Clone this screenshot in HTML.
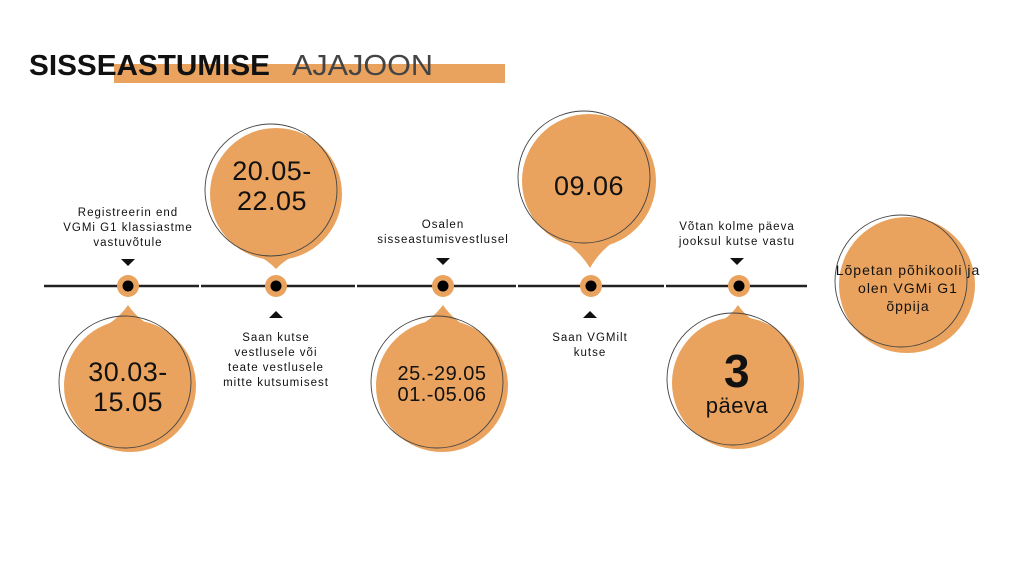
<!DOCTYPE html>
<html><head><meta charset="utf-8"><style>
html,body{margin:0;padding:0;background:#fff;}
svg{display:block;}
.lbl{font-family:"Liberation Sans",sans-serif;font-size:11.5px;letter-spacing:1px;fill:#111;text-anchor:middle;}
.big{font-family:"Liberation Sans",sans-serif;font-size:27px;fill:#111;text-anchor:middle;letter-spacing:0.5px;}
</style></head><body>
<svg width="1024" height="576" viewBox="0 0 1024 576" xmlns="http://www.w3.org/2000/svg">
<rect width="1024" height="576" fill="#fff"/>
<!-- title -->
<rect x="114" y="64" width="391" height="19" fill="#E9A35E"/>
<text x="29" y="75" font-family="Liberation Sans,sans-serif" font-weight="bold" font-size="29" fill="#111" textLength="241" lengthAdjust="spacingAndGlyphs">SISSEASTUMISE</text>
<text x="292" y="75" font-family="Liberation Sans,sans-serif" font-weight="normal" font-size="29" fill="#444" textLength="141" lengthAdjust="spacingAndGlyphs">AJAJOON</text>

<!-- timeline segments -->
<g stroke="#222" stroke-width="2.6">
<line x1="44" y1="286" x2="199" y2="286"/>
<line x1="201" y1="286" x2="355" y2="286"/>
<line x1="357" y1="286" x2="516" y2="286"/>
<line x1="518" y1="286" x2="664" y2="286"/>
<line x1="666" y1="286" x2="807" y2="286"/>
</g>

<!-- bubbles -->
<g fill="#E9A35E">
<circle cx="130" cy="386" r="66"/>
<path d="M98 330 Q118 320 128 305 Q138 320 158 330 Z"/>
<circle cx="276" cy="194" r="66"/>
<path d="M246 250 Q266 258 276 269 Q286 258 306 250 Z"/>
<circle cx="442" cy="386" r="66"/>
<path d="M412 330 Q432 320 443 305 Q453 320 472 330 Z"/>
<circle cx="589" cy="181" r="67"/>
<path d="M559 238 Q579 250 590 268 Q600 250 619 238 Z"/>
<circle cx="738" cy="383" r="66"/>
<path d="M708 328 Q728 320 738 305 Q748 320 768 328 Z"/>
<circle cx="907" cy="285" r="68"/>
</g>
<g fill="none" stroke="#444" stroke-width="0.9">
<circle cx="125" cy="382" r="66"/>
<circle cx="271" cy="190" r="66"/>
<circle cx="437" cy="382" r="66"/>
<circle cx="584" cy="177" r="66"/>
<circle cx="733" cy="379" r="66"/>
<circle cx="901" cy="281" r="66"/>
</g>

<!-- dots -->
<g>
<circle cx="128" cy="286" r="11" fill="#E9A35E"/><circle cx="128" cy="286" r="5.5" fill="#000"/>
<circle cx="276" cy="286" r="11" fill="#E9A35E"/><circle cx="276" cy="286" r="5.5" fill="#000"/>
<circle cx="443" cy="286" r="11" fill="#E9A35E"/><circle cx="443" cy="286" r="5.5" fill="#000"/>
<circle cx="591" cy="286" r="11" fill="#E9A35E"/><circle cx="591" cy="286" r="5.5" fill="#000"/>
<circle cx="739" cy="286" r="11" fill="#E9A35E"/><circle cx="739" cy="286" r="5.5" fill="#000"/>
</g>

<!-- triangles -->
<g fill="#111">
<polygon points="121,259 135,259 128,266"/>
<polygon points="436,258 450,258 443,265"/>
<polygon points="730,258 744,258 737,265"/>
<polygon points="269,318 283,318 276,311"/>
<polygon points="583,318 597,318 590,311"/>
</g>

<!-- labels -->
<text class="lbl" x="128" y="216">Registreerin end</text>
<text class="lbl" x="128" y="231">VGMi G1 klassiastme</text>
<text class="lbl" x="128" y="246">vastuvõtule</text>

<text class="lbl" x="276" y="341">Saan kutse</text>
<text class="lbl" x="276" y="356">vestlusele või</text>
<text class="lbl" x="276" y="371">teate vestlusele</text>
<text class="lbl" x="276" y="386">mitte kutsumisest</text>

<text class="lbl" x="443" y="228">Osalen</text>
<text class="lbl" x="443" y="243">sisseastumisvestlusel</text>

<text class="lbl" x="590" y="341">Saan VGMilt</text>
<text class="lbl" x="590" y="356">kutse</text>

<text class="lbl" x="737" y="230">Võtan kolme päeva</text>
<text class="lbl" x="737" y="245">jooksul kutse vastu</text>

<text class="lbl" x="908" y="275" style="font-size:14px">Lõpetan põhikooli ja</text>
<text class="lbl" x="908" y="293" style="font-size:14px">olen VGMi G1</text>
<text class="lbl" x="908" y="311" style="font-size:14px">õppija</text>

<!-- big text -->
<text class="big" x="128" y="381">30.03-</text>
<text class="big" x="128" y="411">15.05</text>
<text class="big" x="272" y="180">20.05-</text>
<text class="big" x="272" y="210">22.05</text>
<text class="big" x="442" y="380" style="font-size:20px">25.-29.05</text>
<text class="big" x="442" y="401" style="font-size:20px">01.-05.06</text>
<text class="big" x="589" y="195">09.06</text>
<text class="big" x="737" y="387" style="font-size:46px;font-weight:bold">3</text>
<text class="big" x="737" y="413" style="font-size:22px;font-weight:normal">päeva</text>
</svg>
</body></html>
